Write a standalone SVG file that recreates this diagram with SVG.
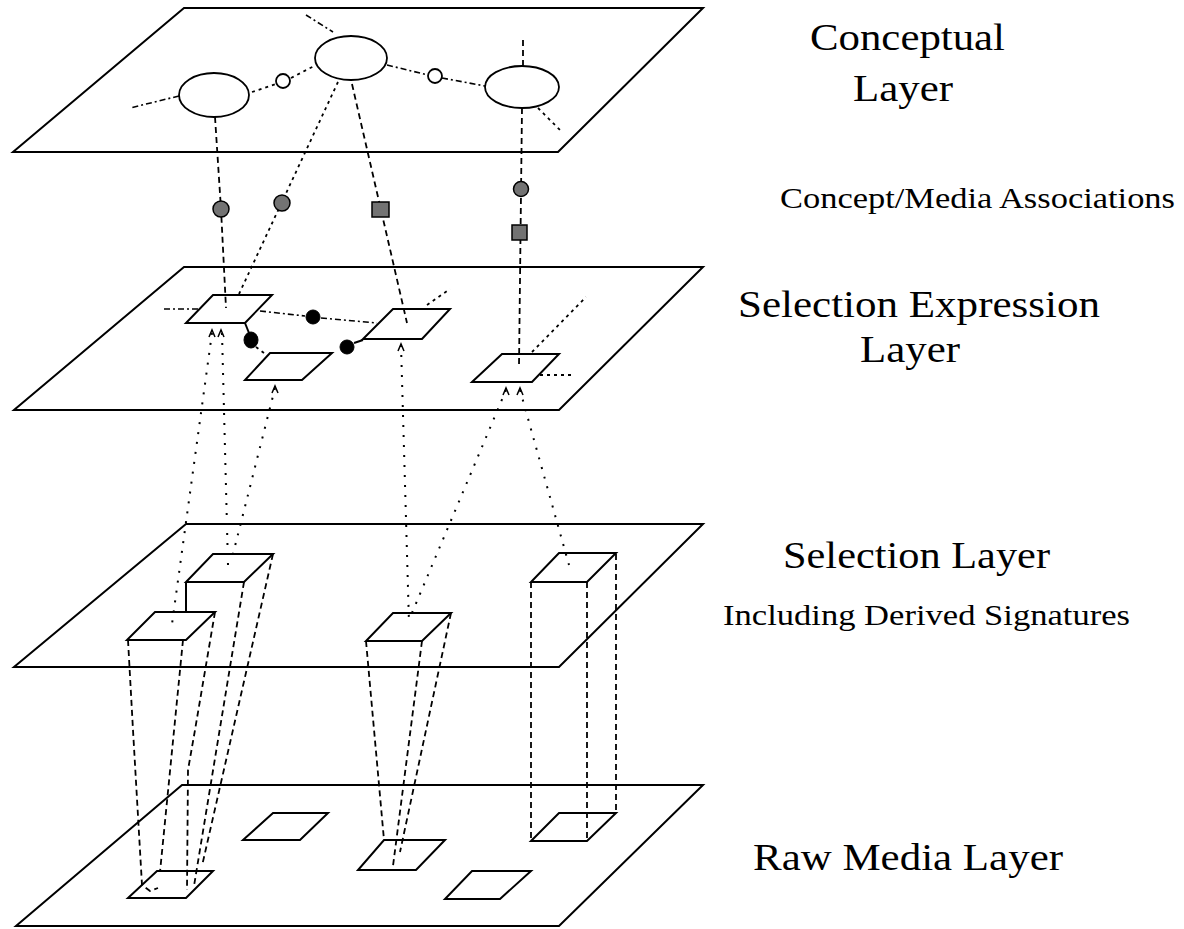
<svg xmlns="http://www.w3.org/2000/svg" width="1184" height="929" viewBox="0 0 1184 929">
<style>
.layer{fill:none;stroke:#000;stroke-width:2}
.face{fill:#fff;stroke:#000;stroke-width:2}
.ell{fill:#fff;stroke:#000;stroke-width:1.8}
.dash{fill:none;stroke:#000;stroke-width:1.8;stroke-dasharray:6 4}
.dot{fill:none;stroke:#000;stroke-width:2;stroke-dasharray:2 8}
.fine{fill:none;stroke:#000;stroke-width:1.8;stroke-dasharray:3 4}
.dashdot{fill:none;stroke:#000;stroke-width:1.6;stroke-dasharray:6 3 2 3}
.solid{fill:none;stroke:#000;stroke-width:2}
.arr{fill:none;stroke:#000;stroke-width:1.5}
.assoc{fill:#737373;stroke:#000;stroke-width:1.5}
.blob{fill:#000;stroke:#000;stroke-width:1}
.lbl{font-family:"Liberation Serif","Times New Roman",serif;fill:#000}
</style>
<rect width="1184" height="929" fill="#fff"/>

<!-- Layers -->
<g id="conceptual-layer"><polygon class="layer" points="184,8 703,8 558,152 13,152"/></g>
<g id="selection-expression-layer"><polygon class="layer" points="184,267 703,267 559,410 14,410"/></g>
<g id="selection-layer"><polygon class="layer" points="186,524 703,524 559,667 14,667"/></g>
<g id="raw-media-layer"><polygon class="layer" points="182,785 703,785 559,926 16,926"/></g>

<!-- Concept nodes -->
<g id="concept-1"><ellipse class="ell" cx="214" cy="95" rx="35" ry="22"/></g>
<g id="concept-2"><ellipse class="ell" cx="351" cy="58" rx="36" ry="22"/></g>
<g id="concept-3"><ellipse class="ell" cx="522" cy="87" rx="37" ry="21"/></g>
<g id="relation-1"><circle class="ell" cx="283" cy="81" r="7"/></g>
<g id="relation-2"><circle class="ell" cx="435" cy="76" r="7"/></g>

<!-- Selection expression nodes -->
<g id="expr-a"><polygon class="face" points="213,295 272,295 245,323 186,323"/></g>
<g id="expr-b"><polygon class="face" points="270,353 332,353 302,380 245,380"/></g>
<g id="expr-c"><polygon class="face" points="393,309 450,309 422,339 363,339"/></g>
<g id="expr-d"><polygon class="face" points="502,354 559,354 532,382 472,382"/></g>

<!-- Selection layer boxes -->
<g id="selection-box-1"><polygon class="face" points="155,612 215,612 186,640 127,640"/></g>
<g id="selection-box-2"><polygon class="face" points="213,554 273,554 244,582 186,582"/><line class="solid" x1="186" y1="582" x2="186" y2="612"/></g>
<g id="selection-box-3"><polygon class="face" points="393,613 451,613 422,641 366,641"/></g>
<g id="selection-box-4"><polygon class="face" points="559,553 616,553 587,582 531,582"/></g>

<!-- Raw media regions -->
<g id="raw-e"><polygon class="face" points="157,871 213,871 186,898 128,898"/></g>
<g id="raw-h"><polygon class="face" points="273,813 328,813 300,840 243,840"/></g>
<g id="raw-f"><polygon class="face" points="384,840 445,840 416,870 358,870"/></g>
<g id="raw-i"><polygon class="face" points="472,871 531,871 500,899 445,899"/></g>
<g id="raw-g"><polygon class="face" points="559,813 616,813 587,841 531,841"/></g>

<!-- Connectors -->
<g id="connectors">
  <line class="dashdot" x1="179" y1="96" x2="130" y2="108"/>
  <line class="fine" x1="252" y1="92" x2="276" y2="84"/>
  <line class="fine" x1="291" y1="78" x2="316" y2="65"/>
  <line class="dashdot" x1="387" y1="65" x2="428" y2="75"/>
  <line class="dashdot" x1="442" y1="78" x2="485" y2="86"/>
  <line class="dashdot" x1="306" y1="15" x2="333" y2="32"/>
  <line class="dash" x1="523" y1="40" x2="523" y2="66"/>
  <line class="fine" x1="538" y1="108" x2="560" y2="130"/>
  <polyline class="dash" points="215,117 221,209 226,308"/>
  <line class="fine" x1="338" y1="82" x2="239" y2="294"/>
  <line class="dash" x1="352" y1="84" x2="407" y2="323"/>
  <line class="dash" x1="522" y1="108" x2="519" y2="366"/>
  <line class="dashdot" x1="164" y1="309" x2="198" y2="309"/>
  <line class="dashdot" x1="260" y1="311" x2="305" y2="316"/>
  <line class="dashdot" x1="321" y1="318" x2="377" y2="323"/>
  <line class="fine" x1="427" y1="305" x2="450" y2="289"/>
  <line class="fine" x1="532" y1="352" x2="586" y2="297"/>
  <line class="fine" x1="540" y1="375" x2="573" y2="375"/>
  <line class="solid" x1="245" y1="323" x2="249" y2="333"/>
  <line class="fine" x1="256" y1="347" x2="268" y2="356"/>
  <line class="solid" x1="354" y1="343" x2="363" y2="340"/>
  <path class="arr" d="M209,337 L212,330 L215,337 M218,337 L221,330 L224,337 M272,393 L275,386 L278,393 M398,351 L401,344 L404,351 M503,395 L506,388 L509,395 M517,395 L520,388 L523,395"/>
  <line class="dot" x1="212" y1="333" x2="172" y2="624"/>
  <line class="dot" x1="222" y1="333" x2="228" y2="565"/>
  <line class="dot" x1="275" y1="388" x2="231" y2="562"/>
  <line class="dot" x1="401" y1="345" x2="409" y2="623"/>
  <line class="dot" x1="506" y1="390" x2="409" y2="620"/>
  <line class="dot" x1="520" y1="390" x2="569" y2="565"/>
  <polyline class="dash" points="128,640 133,730 142,885 150,891 158,888"/>
  <line class="dash" x1="183" y1="640" x2="160" y2="872"/>
  <polyline class="dash" points="215,612 195,730 188,770 187,890"/>
  <line class="dash" x1="244" y1="582" x2="194" y2="886"/>
  <line class="dash" x1="273" y1="554" x2="202" y2="866"/>
  <line class="dash" x1="366" y1="641" x2="384" y2="840"/>
  <line class="dash" x1="422" y1="641" x2="393" y2="866"/>
  <line class="dash" x1="451" y1="613" x2="400" y2="852"/>
  <line class="dash" x1="531" y1="582" x2="531" y2="841"/>
  <line class="dash" x1="587" y1="582" x2="587" y2="841"/>
  <line class="dash" x1="616" y1="554" x2="616" y2="813"/>
</g>

<!-- Association markers -->
<g id="assoc-1"><circle class="assoc" cx="221" cy="209" r="8"/></g>
<g id="assoc-2"><circle class="assoc" cx="282" cy="203" r="8"/></g>
<g id="assoc-3"><rect class="assoc" x="372" y="202" width="17" height="15"/></g>
<g id="assoc-4"><circle class="assoc" cx="521" cy="189" r="7.5"/></g>
<g id="assoc-5"><rect class="assoc" x="512" y="225" width="15" height="15"/></g>

<!-- Operator blobs -->
<g id="op-1"><circle class="blob" cx="313" cy="317" r="7"/></g>
<g id="op-2"><ellipse class="blob" cx="251" cy="340" rx="7" ry="8"/></g>
<g id="op-3"><circle class="blob" cx="347" cy="347" r="7"/></g>

<!-- Labels -->
<g id="labels">
  <text class="lbl" x="810" y="50" font-size="37" textLength="195" lengthAdjust="spacingAndGlyphs">Conceptual</text>
  <text class="lbl" x="853" y="101" font-size="37" textLength="100" lengthAdjust="spacingAndGlyphs">Layer</text>
  <text class="lbl" x="780" y="208" font-size="29" textLength="395" lengthAdjust="spacingAndGlyphs">Concept/Media Associations</text>
  <text class="lbl" x="738" y="317" font-size="37" textLength="362" lengthAdjust="spacingAndGlyphs">Selection Expression</text>
  <text class="lbl" x="860" y="362" font-size="37" textLength="100" lengthAdjust="spacingAndGlyphs">Layer</text>
  <text class="lbl" x="783" y="568" font-size="37" textLength="267" lengthAdjust="spacingAndGlyphs">Selection Layer</text>
  <text class="lbl" x="723" y="625" font-size="29" textLength="407" lengthAdjust="spacingAndGlyphs">Including Derived Signatures</text>
  <text class="lbl" x="753" y="870" font-size="38" textLength="310" lengthAdjust="spacingAndGlyphs">Raw Media Layer</text>
</g>
</svg>
